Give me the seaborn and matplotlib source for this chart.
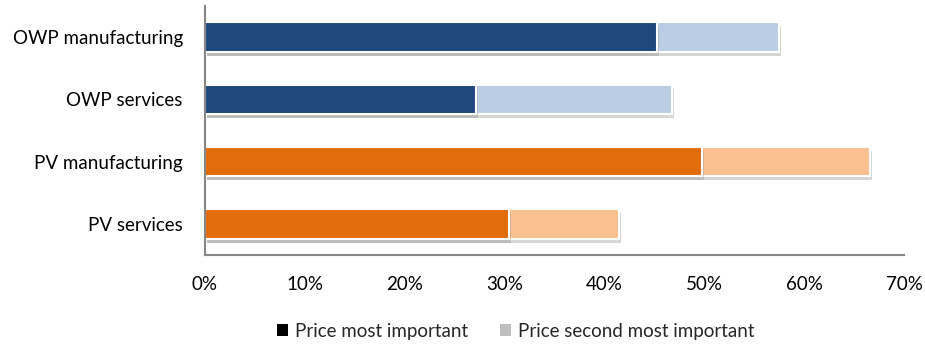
import matplotlib
matplotlib.use("Agg")
import matplotlib.pyplot as plt
import matplotlib.patheffects as pe
from matplotlib.patches import Patch
from matplotlib.ticker import PercentFormatter
import pandas as pd
import seaborn as sns

categories = ["OWP manufacturing", "OWP services", "PV manufacturing", "PV services"]
most_important = [45.3, 27.1, 49.8, 30.4]
second_important = [12.2, 19.7, 16.8, 11.1]
dark_colors = ["#1F497D", "#1F497D", "#E36C0A", "#E36C0A"]
light_colors = ["#B9CDE5", "#B9CDE5", "#FAC090", "#FAC090"]
legend_labels = ["Price most important", "Price second most important"]
x_ticks = [0, 10, 20, 30, 40, 50, 60, 70]

df = pd.DataFrame({
    "category": categories,
    "first": most_important,
    "total": [a + b for a, b in zip(most_important, second_important)],
})

sns.set_theme(style="white")
plt.rcParams["font.family"] = ["Lato", "DejaVu Sans"]

fig = plt.figure(figsize=(9.25, 3.5), dpi=100)
ax = fig.add_axes([205 / 925, 1 - 255 / 350, (904 - 205) / 925, (255 - 6) / 350])

shadow = [pe.SimplePatchShadow(offset=(1.5, -3), shadow_rgbFace="#8c8c8c", alpha=0.35), pe.Normal()]

# full stack length first, then the leading segment on top of it
sns.barplot(data=df, y="category", x="total", hue="category", palette=light_colors,
            saturation=1, orient="h", width=0.47, edgecolor="white", linewidth=1.5,
            legend=False, ax=ax)
sns.barplot(data=df, y="category", x="first", hue="category", palette=dark_colors,
            saturation=1, orient="h", width=0.47, edgecolor="white", linewidth=1.5,
            legend=False, ax=ax)
for p in ax.patches:
    p.set_path_effects(shadow)

ax.set_xlim(0, 70)
ax.set_ylim(3.5, -0.5)
ax.set_xticks(x_ticks)
ax.xaxis.set_major_formatter(PercentFormatter(decimals=0))
ax.set_xlabel("")
ax.set_ylabel("")
ax.tick_params(axis="x", labelsize=13.5, colors="black", pad=15, length=0)
ax.tick_params(axis="y", labelsize=13.5, colors="black", pad=16, length=0)

for side in ["top", "right"]:
    ax.spines[side].set_visible(False)
for side in ["left", "bottom"]:
    ax.spines[side].set_color("#868686")
    ax.spines[side].set_linewidth(1.5)

handles = [Patch(facecolor="black", edgecolor="none"), Patch(facecolor="#BFBFBF", edgecolor="none")]
fig.legend(handles, legend_labels, loc="center", bbox_to_anchor=(516 / 925, 1 - 331 / 350),
           ncol=2, frameon=False, fontsize=13.5, handlelength=0.55, handleheight=0.55,
           handletextpad=0.4, columnspacing=1.7)

fig.savefig("out.png", dpi=100)
